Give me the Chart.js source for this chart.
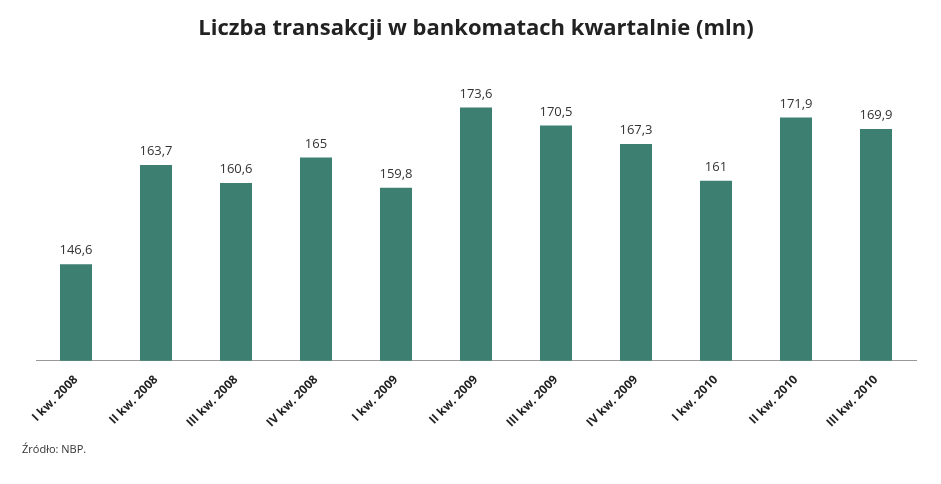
<!DOCTYPE html>
<html>
<head>
<meta charset="utf-8">
<script src="https://cdn.jsdelivr.net/npm/chart.js@4"></script>
<style>
  body { margin: 0; background: #fff; font-family: "Open Sans", sans-serif; }
  #wrap { position: relative; width: 941px; height: 484px; }
  #source { position: absolute; left: 22px; top: 441px; font-size: 11px; color: #333; }
</style>
</head>
<body>
<div id="wrap">
  <canvas id="chart" width="941" height="484"></canvas>
  <div id="source">Źródło: NBP.</div>
</div>
<script>
const categories = ["I kw. 2008", "II kw. 2008", "III kw. 2008", "IV kw. 2008", "I kw. 2009", "II kw. 2009",
  "III kw. 2009", "IV kw. 2009", "I kw. 2010", "II kw. 2010", "III kw. 2010"]
const values = [146.6, 163.7, 160.6, 165, 159.8, 173.6, 170.5, 167.3, 161, 171.9, 169.9]

const barLabels = {
  id: "barLabels",
  afterDatasetsDraw(chart) {
    const ctx = chart.ctx
    ctx.save()
    ctx.font = "13px 'Open Sans'"
    ctx.fillStyle = "#333"
    ctx.textAlign = "center"
    ctx.textBaseline = "bottom"
    chart.getDatasetMeta(0).data.forEach((bar, i) => {
      ctx.fillText(String(values[i]).replace(".", ","), bar.x, bar.y - 7)
    })
    ctx.restore()
  }
}

new Chart(document.getElementById("chart"), {
  type: "bar",
  data: {
    labels: categories,
    datasets: [{
      data: values,
      backgroundColor: "#3d7f71",
      categoryPercentage: 1,
      barPercentage: 0.4
    }]
  },
  options: {
    responsive: false,
    animation: false,
    layout: { padding: { left: 36, right: 25, top: 0, bottom: 50 } },
    plugins: {
      legend: { display: false },
      tooltip: { enabled: false },
      title: {
        display: true,
        text: "Liczba transakcji w bankomatach kwartalnie (mln)",
        color: "#222",
        font: { family: "Open Sans", size: 22, weight: "bold" },
        padding: { top: 16, bottom: 28 }
      }
    },
    scales: {
      y: { display: false, min: 130, max: 180 },
      x: {
        grid: { display: false },
        border: { color: "#999", width: 1 },
        ticks: {
          color: "#222",
          font: { family: "Open Sans", size: 12, weight: "bold" },
          maxRotation: 45,
          minRotation: 45,
          padding: 4
        }
      }
    }
  },
  plugins: [barLabels]
})
</script>
</body>
</html>
